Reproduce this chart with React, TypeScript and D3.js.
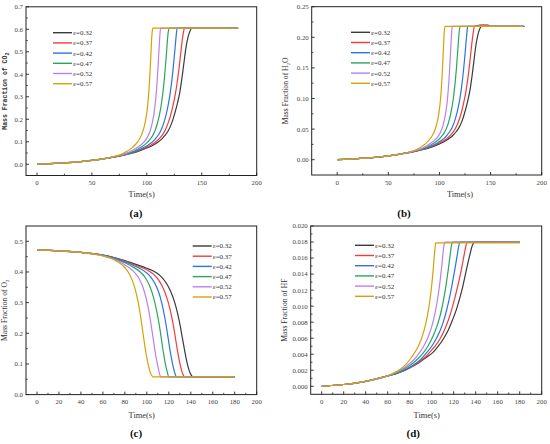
import React from 'react';
import * as d3 from 'd3';

type Pt = [number, number];

const epsLabels = ['0.32', '0.37', '0.42', '0.47', '0.52', '0.57'];
const colors = ['#3a3a3a', '#f23b3b', '#2b74e4', '#2ba55e', '#b980f0', '#d6a20c'];

// (a) mass fraction of CO2
const co2_032: Pt[] = [[0, 0], [20, 0.005], [40, 0.012], [60, 0.024], [70, 0.032], [80, 0.042], [90, 0.054], [100, 0.072], [106, 0.086], [110, 0.098], [113.5, 0.112], [116.5, 0.128], [119.5, 0.149], [122, 0.175], [124, 0.203], [126, 0.236], [128, 0.274], [130, 0.32], [132, 0.385], [134, 0.46], [135.5, 0.515], [137.5, 0.565], [139.5, 0.595], [141, 0.605], [182, 0.605]];
const co2_037: Pt[] = [[0, 0], [20, 0.005], [40, 0.012], [60, 0.024], [70, 0.032], [80, 0.042], [90, 0.056], [100, 0.076], [105, 0.089], [108.5, 0.101], [111.5, 0.115], [114.5, 0.133], [117, 0.155], [119.5, 0.185], [121.5, 0.215], [123.5, 0.255], [125.5, 0.3], [127.5, 0.36], [129.5, 0.435], [131, 0.5], [132.5, 0.56], [133.5, 0.592], [134.3, 0.605], [182, 0.605]];
const co2_042: Pt[] = [[0, 0], [20, 0.005], [40, 0.012], [60, 0.024], [70, 0.033], [80, 0.043], [90, 0.058], [97, 0.074], [101, 0.085], [104.5, 0.097], [107.5, 0.112], [110.5, 0.13], [113, 0.152], [115.5, 0.185], [117.5, 0.22], [119.5, 0.265], [121.5, 0.325], [123.5, 0.405], [125, 0.48], [126.2, 0.545], [127, 0.585], [127.6, 0.605], [183.5, 0.605]];
const co2_047: Pt[] = [[0, 0], [20, 0.005], [40, 0.012], [60, 0.024], [70, 0.033], [78, 0.042], [85, 0.052], [92, 0.068], [96, 0.08], [99.5, 0.093], [102.5, 0.108], [105, 0.125], [107.5, 0.15], [109.5, 0.18], [111.5, 0.22], [113.3, 0.27], [115, 0.335], [116.5, 0.41], [117.8, 0.49], [118.8, 0.555], [119.6, 0.592], [120.2, 0.605], [182, 0.605]];
const co2_052: Pt[] = [[0, 0], [20, 0.005], [40, 0.012], [60, 0.024], [70, 0.034], [80, 0.046], [87, 0.062], [92, 0.077], [95.5, 0.09], [98.5, 0.105], [101, 0.125], [103, 0.148], [105, 0.185], [106.5, 0.225], [108, 0.285], [109.2, 0.355], [110.3, 0.44], [111.2, 0.52], [111.9, 0.575], [112.5, 0.605], [182, 0.605]];
const co2_057: Pt[] = [[0, 0], [20, 0.005], [40, 0.012], [60, 0.024], [70, 0.034], [76, 0.043], [82, 0.058], [86.5, 0.073], [90, 0.09], [93, 0.11], [95.5, 0.135], [97.5, 0.165], [99.2, 0.205], [100.6, 0.255], [101.8, 0.32], [102.8, 0.4], [103.6, 0.48], [104.3, 0.55], [104.9, 0.59], [105.4, 0.605], [182, 0.605]];

// (b) mass fraction of H2O
const h2o_032: Pt[] = [[0, 0], [20, 0.0018], [40, 0.0043], [60, 0.0086], [70, 0.0115], [80, 0.0151], [90, 0.0194], [100, 0.0259], [106, 0.031], [110, 0.0353], [113.5, 0.0403], [116.5, 0.0461], [119.5, 0.0536], [122, 0.063], [124, 0.0731], [126, 0.085], [128, 0.0986], [130, 0.1152], [132, 0.1386], [134, 0.1656], [135.5, 0.1854], [137.5, 0.2034], [139.5, 0.2142], [141, 0.218], [182, 0.218]];
const h2o_037: Pt[] = [[0, 0], [20, 0.0018], [40, 0.0043], [60, 0.0086], [70, 0.0115], [80, 0.0151], [90, 0.0202], [100, 0.0274], [105, 0.032], [108.5, 0.0364], [111.5, 0.0414], [114.5, 0.0479], [117, 0.0558], [119.5, 0.0666], [121.5, 0.0774], [123.5, 0.0918], [125.5, 0.108], [127.5, 0.1296], [129.5, 0.1566], [131, 0.18], [132.5, 0.2016], [133.5, 0.2131], [134.3, 0.218], [137, 0.2192], [140, 0.2204], [147, 0.2204], [150, 0.218], [182, 0.218]];
const h2o_042: Pt[] = [[0, 0], [20, 0.0018], [40, 0.0043], [60, 0.0086], [70, 0.0119], [80, 0.0155], [90, 0.0209], [97, 0.0266], [101, 0.0306], [104.5, 0.0349], [107.5, 0.0403], [110.5, 0.0468], [113, 0.0547], [115.5, 0.0666], [117.5, 0.0792], [119.5, 0.0954], [121.5, 0.117], [123.5, 0.1458], [125, 0.1728], [126.2, 0.1962], [127, 0.2106], [127.6, 0.218], [183.5, 0.218]];
const h2o_047: Pt[] = [[0, 0], [20, 0.0018], [40, 0.0043], [60, 0.0086], [70, 0.0119], [78, 0.0151], [85, 0.0187], [92, 0.0245], [96, 0.0288], [99.5, 0.0335], [102.5, 0.0389], [105, 0.045], [107.5, 0.054], [109.5, 0.0648], [111.5, 0.0792], [113.3, 0.0972], [115, 0.1206], [116.5, 0.1476], [117.8, 0.1764], [118.8, 0.1998], [119.6, 0.2131], [120.2, 0.218], [182, 0.218]];
const h2o_052: Pt[] = [[0, 0], [20, 0.0018], [40, 0.0043], [60, 0.0086], [70, 0.0122], [80, 0.0166], [87, 0.0223], [92, 0.0277], [95.5, 0.0324], [98.5, 0.0378], [101, 0.045], [103, 0.0533], [105, 0.0666], [106.5, 0.081], [108, 0.1026], [109.2, 0.1278], [110.3, 0.1584], [111.2, 0.1872], [111.9, 0.207], [112.5, 0.218], [182, 0.218]];
const h2o_057: Pt[] = [[0, 0], [20, 0.0018], [40, 0.0043], [60, 0.0086], [70, 0.0122], [76, 0.0155], [82, 0.0209], [86.5, 0.0263], [90, 0.0324], [93, 0.0396], [95.5, 0.0486], [97.5, 0.0594], [99.2, 0.0738], [100.6, 0.0918], [101.8, 0.1152], [102.8, 0.144], [103.6, 0.1728], [104.3, 0.198], [104.9, 0.2124], [105.4, 0.218], [182, 0.218]];

// (c) mass fraction of O2
const o2_032: Pt[] = [[0, 0.472], [20, 0.469], [40, 0.464], [60, 0.455], [70, 0.447], [80, 0.437], [90, 0.425], [100, 0.412], [108, 0.399], [113, 0.385], [117.5, 0.365], [121.5, 0.338], [125, 0.305], [128, 0.265], [130.5, 0.222], [132.7, 0.178], [134.7, 0.138], [136.6, 0.104], [138.4, 0.08], [140, 0.066], [141.8, 0.058], [180, 0.058]];
const o2_037: Pt[] = [[0, 0.472], [20, 0.469], [40, 0.464], [60, 0.455], [70, 0.447], [80, 0.436], [90, 0.422], [100, 0.407], [106, 0.393], [110.5, 0.375], [114.5, 0.35], [118, 0.318], [121, 0.28], [123.5, 0.238], [125.8, 0.19], [127.8, 0.145], [129.7, 0.108], [131.5, 0.08], [133, 0.065], [134.3, 0.058], [180, 0.058]];
const o2_042: Pt[] = [[0, 0.472], [20, 0.469], [40, 0.464], [60, 0.455], [70, 0.446], [80, 0.433], [90, 0.418], [98, 0.402], [103, 0.386], [107, 0.365], [110.5, 0.337], [113.5, 0.3], [116, 0.258], [118.3, 0.21], [120.3, 0.163], [122.2, 0.122], [124, 0.09], [125.5, 0.07], [127, 0.058], [180, 0.058]];
const o2_047: Pt[] = [[0, 0.472], [20, 0.469], [40, 0.464], [60, 0.454], [70, 0.444], [80, 0.43], [88, 0.415], [94, 0.4], [98.5, 0.382], [102.5, 0.355], [106, 0.318], [109, 0.272], [111.4, 0.225], [113.5, 0.175], [115.3, 0.132], [117, 0.098], [118.5, 0.075], [120, 0.058], [180, 0.058]];
const o2_052: Pt[] = [[0, 0.472], [20, 0.469], [40, 0.464], [60, 0.453], [70, 0.442], [78, 0.428], [84, 0.414], [89, 0.398], [93, 0.378], [96.5, 0.35], [99.5, 0.312], [102, 0.268], [104.2, 0.22], [106.2, 0.172], [108, 0.13], [109.7, 0.098], [111, 0.076], [112.7, 0.058], [180, 0.058]];
const o2_057: Pt[] = [[0, 0.472], [20, 0.469], [40, 0.464], [60, 0.452], [68, 0.443], [74, 0.432], [79, 0.418], [83, 0.4], [86.5, 0.375], [89.5, 0.342], [92, 0.303], [94, 0.262], [95.8, 0.218], [97.5, 0.175], [99.2, 0.135], [100.8, 0.105], [102.5, 0.08], [104, 0.065], [105.3, 0.058], [180, 0.058]];

// (d) mass fraction of HF
const hf_032: Pt[] = [[0, 0], [20, 0.00022], [40, 0.00062], [60, 0.0013], [70, 0.0017], [80, 0.0023], [88, 0.0029], [95, 0.0036], [101, 0.0042], [106, 0.005], [111, 0.006], [115, 0.007], [119, 0.0083], [122.5, 0.0096], [125.5, 0.011], [128.5, 0.0126], [131.5, 0.0145], [134.5, 0.0163], [137, 0.0176], [138.8, 0.018], [180, 0.018]];
const hf_037: Pt[] = [[0, 0], [20, 0.00022], [40, 0.00062], [60, 0.0013], [70, 0.0017], [80, 0.0023], [87, 0.0029], [93, 0.0035], [98, 0.0042], [103, 0.005], [107.5, 0.0059], [111.5, 0.007], [115, 0.0082], [118, 0.0095], [121, 0.011], [124, 0.0127], [127, 0.0146], [129.5, 0.0164], [131.2, 0.0176], [132.5, 0.018], [140, 0.01806], [162, 0.01806], [165, 0.018], [180, 0.018]];
const hf_042: Pt[] = [[0, 0], [20, 0.00022], [40, 0.00062], [60, 0.0013], [70, 0.0017], [78, 0.0022], [85, 0.0028], [90.5, 0.0034], [95.5, 0.0042], [100, 0.005], [104, 0.0059], [107.5, 0.0069], [110.5, 0.008], [113.2, 0.0093], [115.8, 0.0108], [118.3, 0.0125], [120.8, 0.0144], [123, 0.0162], [124.6, 0.0175], [125.8, 0.018], [180, 0.018]];
const hf_047: Pt[] = [[0, 0], [20, 0.00022], [40, 0.00062], [60, 0.0013], [70, 0.0018], [77, 0.0023], [83, 0.0029], [88, 0.0035], [92.5, 0.0042], [96.5, 0.005], [100, 0.0059], [103.2, 0.0069], [106, 0.008], [108.5, 0.0093], [110.8, 0.0108], [113, 0.0126], [115, 0.0145], [116.7, 0.0163], [118, 0.0176], [119, 0.018], [180, 0.018]];
const hf_052: Pt[] = [[0, 0], [20, 0.00022], [40, 0.00062], [60, 0.0013], [68, 0.0018], [75, 0.0023], [80.5, 0.0029], [85, 0.0035], [89, 0.0042], [92.7, 0.005], [96, 0.0059], [99, 0.007], [101.5, 0.0082], [103.7, 0.0096], [105.7, 0.0112], [107.5, 0.013], [109, 0.0148], [110.3, 0.0166], [111.3, 0.0177], [112, 0.018], [180, 0.018]];
const hf_057: Pt[] = [[0, 0], [20, 0.00022], [40, 0.00062], [60, 0.00135], [66, 0.0017], [72, 0.0022], [77, 0.0028], [81, 0.0035], [84.5, 0.0042], [87.8, 0.005], [90.8, 0.006], [93.5, 0.0072], [95.8, 0.0086], [97.8, 0.0102], [99.5, 0.012], [101, 0.014], [102.2, 0.016], [103, 0.0172], [103.7, 0.0179], [180, 0.0179]];

const xTicksAB = [0, 50, 100, 150, 200];
const xTicksCD = [0, 20, 40, 60, 80, 100, 120, 140, 160, 180, 200];
const yTicksA = [0, 0.1, 0.2, 0.3, 0.4, 0.5, 0.6, 0.7];
const yTicksB = [0, 0.05, 0.1, 0.15, 0.2, 0.25];
const yTicksC = [0, 0.1, 0.2, 0.3, 0.4, 0.5];
const yTicksD = [0, 0.002, 0.004, 0.006, 0.008, 0.01, 0.012, 0.014, 0.016, 0.018, 0.02];

interface PanelSpec {
  left: number; right: number; top: number; bottom: number;
  xDomain: [number, number]; yDomain: [number, number];
  xTicks: number[]; yTicks: number[]; yFmt: string;
  series: Pt[][];
  yLabel: [string, string, string]; labelFont: string; labelX: number;
  legendX: number; legendY: number;
  timeX: number; timeY: number;
  caption: string; capX: number; capY: number;
}

const serif = '"Liberation Serif", "Times New Roman", serif';

const panels: PanelSpec[] = [
  {
    left: 26, right: 256.7, top: 6.8, bottom: 175.5,
    xDomain: [-10, 200], yDomain: [-0.05, 0.7], xTicks: xTicksAB, yTicks: yTicksA, yFmt: '.1f',
    series: [co2_032, co2_037, co2_042, co2_047, co2_052, co2_057],
    yLabel: ['Mass Fraction of CO', '2', ''], labelFont: '"Liberation Mono", monospace', labelX: 7,
    legendX: 53, legendY: 32.7, timeX: 141.7, timeY: 197, caption: '(a)', capX: 136, capY: 216.5,
  },
  {
    left: 311.7, right: 541.7, top: 6.7, bottom: 175,
    xDomain: [-25, 200], yDomain: [-0.025, 0.25], xTicks: xTicksAB, yTicks: yTicksB, yFmt: '.2f',
    series: [h2o_032, h2o_037, h2o_042, h2o_047, h2o_052, h2o_057],
    yLabel: ['Mass Fraction of H', '2', 'O'], labelFont: serif, labelX: 288,
    legendX: 351, legendY: 32.3, timeX: 460, timeY: 196.5, caption: '(b)', capX: 404, capY: 216.5,
  },
  {
    left: 26, right: 256.7, top: 226, bottom: 394.6,
    xDomain: [-10, 200], yDomain: [0, 0.55], xTicks: xTicksCD, yTicks: yTicksC, yFmt: '.1f',
    series: [o2_032, o2_037, o2_042, o2_047, o2_052, o2_057],
    yLabel: ['Mass Fraction of O', '2', ''], labelFont: serif, labelX: 7,
    legendX: 192.7, legendY: 246, timeX: 141.7, timeY: 417.5, caption: '(c)', capX: 136, capY: 436.5,
  },
  {
    left: 310.7, right: 541.7, top: 226, bottom: 394.3,
    xDomain: [-10, 200], yDomain: [-0.001, 0.02], xTicks: xTicksCD, yTicks: yTicksD, yFmt: '.3f',
    series: [hf_032, hf_037, hf_042, hf_047, hf_052, hf_057],
    yLabel: ['Mass Fraction of HF', '', ''], labelFont: serif, labelX: 287,
    legendX: 355, legendY: 245.3, timeX: 426.7, timeY: 417.5, caption: '(d)', capX: 413.3, capY: 436.5,
  },
];

function minors(t: number[]): number[] {
  return t.slice(1).map((v, i) => (v + t[i]) / 2);
}

const Panel: React.FC<{ p: PanelSpec }> = ({ p }) => {
  const x = d3.scaleLinear().domain(p.xDomain).range([p.left, p.right]);
  const y = d3.scaleLinear().domain(p.yDomain).range([p.bottom, p.top]);
  const line = d3.line<Pt>().x((d) => x(d[0])).y((d) => y(d[1])).curve(d3.curveMonotoneX);
  const fmt = d3.format(p.yFmt);
  const cy = (p.top + p.bottom) / 2;

  return (
    <g>
      {p.series.map((s, i) => (
        <path key={i} d={line(s)!} fill="none" stroke={colors[i]} strokeWidth={1.2} />
      ))}
      <rect x={p.left} y={p.top} width={p.right - p.left} height={p.bottom - p.top}
        fill="none" stroke="#222" strokeWidth={1} />
      {p.xTicks.map((t) => (
        <g key={'x' + t}>
          <line x1={x(t)} x2={x(t)} y1={p.bottom} y2={p.bottom - 3} stroke="#222" strokeWidth={0.9} />
          <text x={x(t)} y={p.bottom + 9.5} fontSize={6.8} fontFamily={serif} fill="#444" textAnchor="middle">{t}</text>
        </g>
      ))}
      {minors(p.xTicks).map((t) => (
        <line key={'xm' + t} x1={x(t)} x2={x(t)} y1={p.bottom} y2={p.bottom - 1.8} stroke="#222" strokeWidth={0.8} />
      ))}
      {p.yTicks.map((t) => (
        <g key={'y' + t}>
          <line x1={p.left} x2={p.left + 3} y1={y(t)} y2={y(t)} stroke="#222" strokeWidth={0.9} />
          <text x={p.left - 3} y={y(t) + 2.4} fontSize={6.8} fontFamily={serif} fill="#444" textAnchor="end">{fmt(t)}</text>
        </g>
      ))}
      {minors(p.yTicks).map((t) => (
        <line key={'ym' + t} x1={p.left} x2={p.left + 1.8} y1={y(t)} y2={y(t)} stroke="#222" strokeWidth={0.8} />
      ))}
      <text transform={`translate(${p.labelX},${cy}) rotate(-90)`} textAnchor="middle"
        fontSize={p.labelFont === serif ? 7.6 : 6.5} fontFamily={p.labelFont}
        fontWeight={p.labelFont === serif ? 'normal' : 'bold'} fill="#333">
        {p.yLabel[0]}
        {p.yLabel[1] && <tspan fontSize={5} dy={1.5}>{p.yLabel[1]}</tspan>}
        {p.yLabel[2] && <tspan dy={-1.5}>{p.yLabel[2]}</tspan>}
      </text>
      {epsLabels.map((e, i) => {
        const ly = p.legendY + i * 10.2;
        return (
          <g key={'l' + e}>
            <line x1={p.legendX} x2={p.legendX + 19} y1={ly} y2={ly} stroke={colors[i]} strokeWidth={1.4} />
            <text x={p.legendX + 20} y={ly + 2.4} fontSize={7} fontFamily={serif} fill="#333">{'\u03b5=' + e}</text>
          </g>
        );
      })}
      <text x={p.timeX} y={p.timeY} fontSize={8.4} fontFamily={serif} fill="#333" textAnchor="middle">Time(s)</text>
      <text x={p.capX} y={p.capY} fontSize={11} fontWeight="bold" fontFamily={serif} fill="#111" textAnchor="middle">{p.caption}</text>
    </g>
  );
};

const App: React.FC = () => (
  <svg width={550} height={444} style={{ position: 'absolute', left: 0, top: 0, background: '#fff' }}>
    {panels.map((p) => <Panel key={p.caption} p={p} />)}
  </svg>
);

export default App;
